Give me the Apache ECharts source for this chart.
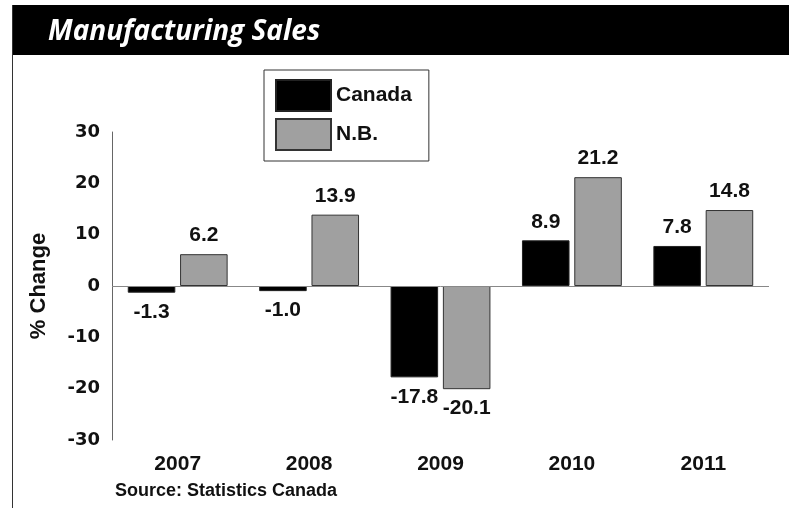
<!DOCTYPE html>
<html>
<head>
<meta charset="utf-8">
<script src="https://cdn.jsdelivr.net/npm/echarts@6/dist/echarts.min.js"></script>
<style>
  html, body { margin: 0; padding: 0; background: #fff; }
  #main { width: 789px; height: 508px; }
</style>
</head>
<body>
<div id="main"></div>
<script>
/* Manufacturing Sales – % change, Canada vs N.B. */
const years = ['2007', '2008', '2009', '2010', '2011'];
const canada = [-1.3, -1.0, -17.8, 8.9, 7.8];
const nb = [6.2, 13.9, -20.1, 21.2, 14.8];
const yTicks = { min: -30, max: 30, step: 10 };

const NARROW = "'Liberation Sans Narrow', 'Liberation Sans', sans-serif";
const WIDE = "'DejaVu Sans', sans-serif";

const withPos = vals => vals.map(v => ({ value: v, label: { position: v < 0 ? 'bottom' : 'top', distance: v < 0 ? 9 : 8 } }));
const barLabel = { show: true, color: '#111', fontFamily: NARROW, fontWeight: 'bold', fontSize: 21, formatter: p => p.value.toFixed(1) };

const chart = echarts.init(document.getElementById('main'), null, { renderer: 'canvas' });
chart.setOption({
  animation: false,
  backgroundColor: '#fff',
  graphic: [
    { type: 'rect', shape: { x: 12, y: 5, width: 777, height: 50 }, style: { fill: '#000' }, z: -1 },
    { type: 'line', shape: { x1: 12.5, y1: 5, x2: 12.5, y2: 508 }, style: { stroke: '#333', lineWidth: 1 } },
    { type: 'text', left: 48, top: 18, style: { text: 'Manufacturing Sales', fill: '#fff', font: "italic bold 28px 'Open Sans', sans-serif" } },
    { type: 'text', left: 115, top: 482, style: { text: 'Source: Statistics Canada', fill: '#111', font: "bold 18px " + NARROW } },
  ],
  legend: {
    left: 264, top: 70, orient: 'vertical',
    icon: 'rect',
    itemWidth: 55, itemHeight: 31, itemGap: 6,
    padding: [9, 17, 10, 11],
    borderColor: '#333', borderWidth: 1,
    textStyle: { fontFamily: NARROW, fontWeight: 'bold', fontSize: 21, color: '#111', padding: [3, 0, 0, 0] },
    data: ['Canada', 'N.B.'],
  },
  grid: { left: 112, right: 20, top: 132, bottom: 68 },
  xAxis: {
    type: 'category', data: years,
    axisLine: { show: false }, axisTick: { show: false },
    axisLabel: { margin: 14, color: '#111', fontFamily: NARROW, fontWeight: 'bold', fontSize: 21 },
  },
  yAxis: {
    type: 'value', min: yTicks.min, max: yTicks.max, interval: yTicks.step,
    name: '% Change', nameLocation: 'middle', nameGap: 62,
    nameTextStyle: { fontFamily: NARROW, fontWeight: 'bold', fontSize: 22, color: '#111' },
    axisLine: { show: true, lineStyle: { color: '#666', width: 1 } },
    axisTick: { show: false }, splitLine: { show: false },
    axisLabel: { margin: 12, color: '#111', fontFamily: WIDE, fontWeight: 'bold', fontSize: 18 },
  },
  series: [
    {
      name: 'Canada', type: 'bar', data: withPos(canada),
      barCategoryGap: '24%', barGap: '10%',
      itemStyle: { color: '#000', borderColor: '#222', borderWidth: 1 },
      label: barLabel,
      markLine: { silent: true, symbol: 'none', label: { show: false }, lineStyle: { color: '#888', width: 1, type: 'solid' }, data: [{ yAxis: 0 }] },
    },
    {
      name: 'N.B.', type: 'bar', data: withPos(nb),
      itemStyle: { color: '#a0a0a0', borderColor: '#333', borderWidth: 1 },
      label: barLabel,
    },
  ],
});
</script>
</body>
</html>
